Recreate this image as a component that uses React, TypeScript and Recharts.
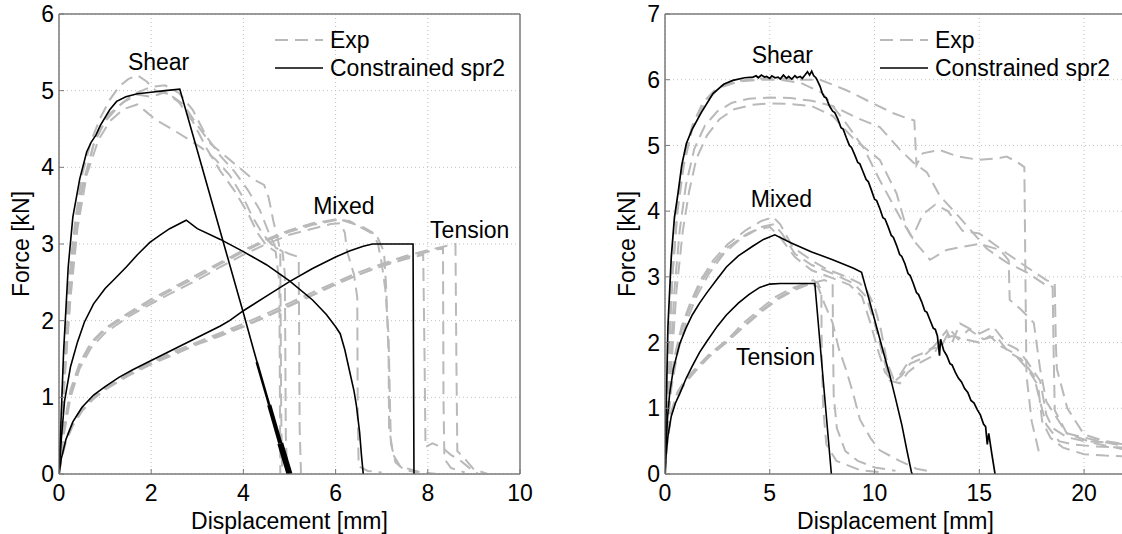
import React from "react";
import {
  LineChart,
  Line,
  XAxis,
  YAxis,
  CartesianGrid,
  ReferenceArea,
  ReferenceDot,
  Legend,
} from "recharts";

// ---------- left panel (x 0..10 mm, y 0..6 kN) ----------
const LEFT_X_TICKS = [0, 2, 4, 6, 8, 10];
const LEFT_Y_TICKS = [0, 1, 2, 3, 4, 5, 6];

const L_SIM_SHEAR = [
  [0, 0], [0.1, 1.6], [0.2, 2.7], [0.3, 3.35], [0.45, 3.85], [0.6, 4.2], [0.7, 4.33],
  [0.8, 4.42], [0.9, 4.55], [1.0, 4.65], [1.1, 4.75], [1.25, 4.86], [1.45, 4.92],
  [1.7, 4.96], [2.0, 4.98], [2.3, 5.0], [2.62, 5.02], [3.0, 4.22], [3.5, 3.16],
  [4.0, 2.1], [4.3, 1.45],
];
// the noisy tail of the shear simulation shows up as a thickening band
const L_SIM_SHEAR_TAIL_1 = [[4.29, 1.46], [4.56, 0.9]];
const L_SIM_SHEAR_TAIL_2 = [[4.56, 0.9], [4.8, 0.4]];
const L_SIM_SHEAR_TAIL_3 = [[4.8, 0.4], [5.0, 0]];
const L_SIM_MIXED = [
  [0, 0], [0.05, 0.45], [0.12, 0.95], [0.25, 1.4], [0.4, 1.72], [0.55, 1.98],
  [0.75, 2.22], [1.0, 2.42], [1.2, 2.54], [1.46, 2.7], [1.7, 2.86], [1.97, 3.02],
  [2.2, 3.12], [2.4, 3.2], [2.6, 3.26], [2.76, 3.31], [3.0, 3.2], [3.5, 3.06],
  [4.0, 2.9], [4.5, 2.73], [5.0, 2.52], [5.5, 2.27], [5.8, 2.08], [6.0, 1.92],
  [6.1, 1.83], [6.2, 1.62], [6.3, 1.35], [6.4, 1.08], [6.45, 0.9], [6.52, 0.55],
  [6.56, 0.25], [6.6, 0],
];
const L_SIM_TENSION = [
  [0, 0], [0.05, 0.2], [0.15, 0.45], [0.3, 0.68], [0.5, 0.87], [0.75, 1.03], [1.0, 1.14],
  [1.3, 1.26], [1.6, 1.36], [2.0, 1.48], [2.5, 1.63], [3.0, 1.78], [3.5, 1.93],
  [3.7, 2.0], [4.0, 2.13], [4.5, 2.32], [5.0, 2.51], [5.5, 2.68], [6.0, 2.83],
  [6.3, 2.91], [6.6, 2.97], [6.8, 3.0], [7.68, 3.0], [7.7, 0],
];

const L_EXP_SHEAR_1 = [
  [0, 0], [0.1, 1.3], [0.2, 2.4], [0.35, 3.3], [0.5, 3.9], [0.7, 4.35], [0.9, 4.65],
  [1.1, 4.88], [1.3, 5.05], [1.5, 5.15], [1.7, 5.2], [1.9, 5.12], [2.1, 5.0],
  [2.4, 4.95], [2.7, 4.82], [3.0, 4.55], [3.3, 4.3], [3.6, 4.15], [3.9, 4.0],
  [4.2, 3.85], [4.45, 3.77], [4.55, 3.6], [4.65, 3.3], [4.75, 3.05], [4.8, 2.9],
  [4.82, 0.8], [4.84, 0],
];
const L_EXP_SHEAR_2 = [
  [0, 0], [0.1, 1.1], [0.25, 2.3], [0.4, 3.2], [0.6, 3.9], [0.85, 4.35], [1.1, 4.6],
  [1.4, 4.76], [1.7, 4.82], [1.9, 4.72], [2.1, 4.62], [2.5, 4.48], [2.8, 4.37],
  [3.1, 4.25], [3.4, 4.1], [3.7, 3.9], [4.0, 3.6], [4.2, 3.35], [4.4, 3.15],
  [4.6, 3.0], [4.85, 2.9], [4.9, 2.6], [4.92, 0.5], [4.95, 0],
];
const L_EXP_SHEAR_3 = [
  [0, 0], [0.15, 1.5], [0.3, 2.8], [0.5, 3.7], [0.75, 4.3], [1.0, 4.6], [1.3, 4.8],
  [1.6, 4.95], [2.0, 5.05], [2.3, 5.07], [2.6, 4.97], [2.9, 4.75], [3.2, 4.4],
  [3.5, 4.15], [3.8, 3.95], [4.1, 3.7], [4.35, 3.45], [4.55, 3.15], [4.7, 2.95],
  [5.0, 2.87], [5.2, 2.83], [5.22, 0.6], [5.25, 0],
];
const L_EXP_SHEAR_4 = [
  [0, 0], [0.12, 1.6], [0.3, 3.0], [0.5, 3.75], [0.8, 4.4], [1.1, 4.7], [1.4, 4.85],
  [1.7, 4.95], [2.0, 4.92], [2.3, 4.98], [2.6, 4.85], [2.9, 4.6], [3.2, 4.25],
  [3.5, 3.95], [3.8, 3.7], [4.1, 3.4], [4.3, 3.15], [4.5, 2.98], [4.7, 2.9],
  [4.78, 2.5], [4.8, 0],
];
const L_EXP_MIXED_1 = [
  [0, 0], [0.1, 0.55], [0.25, 1.05], [0.45, 1.42], [0.7, 1.7], [1.0, 1.88], [1.5, 2.08],
  [2.0, 2.25], [2.5, 2.42], [3.0, 2.57], [3.5, 2.74], [4.0, 2.9], [4.5, 3.04],
  [5.0, 3.16], [5.5, 3.25], [5.9, 3.3], [6.1, 3.32], [6.3, 3.28], [6.6, 3.22],
  [6.8, 3.15], [6.92, 3.0], [7.0, 2.75], [7.08, 2.4], [7.15, 1.8], [7.18, 0.9],
  [7.2, 0.4], [7.3, 0.15], [7.5, 0.05], [7.8, 0.02],
];
const L_EXP_MIXED_2 = [
  [0, 0], [0.1, 0.5], [0.25, 1.0], [0.45, 1.38], [0.7, 1.65], [1.0, 1.84], [1.5, 2.05],
  [2.0, 2.22], [2.5, 2.38], [3.0, 2.53], [3.5, 2.7], [4.0, 2.86], [4.5, 3.0],
  [5.0, 3.12], [5.5, 3.2], [5.9, 3.26], [6.1, 3.27], [6.2, 3.15], [6.25, 2.9],
  [6.4, 2.6], [6.47, 2.3], [6.48, 0.8], [6.5, 0.1], [6.7, 0.04], [7.0, 0.02],
];
const L_EXP_MIXED_3 = [
  [0, 0], [0.1, 0.6], [0.25, 1.1], [0.45, 1.45], [0.7, 1.72], [1.0, 1.9], [1.5, 2.1],
  [2.0, 2.28], [2.5, 2.44], [3.0, 2.6], [3.5, 2.76], [4.0, 2.92], [4.5, 3.06],
  [5.0, 3.18], [5.5, 3.27], [6.0, 3.32], [6.3, 3.3], [6.6, 3.2], [6.9, 3.1],
  [7.05, 2.9], [7.1, 2.4], [7.15, 1.5], [7.16, 0.6], [7.25, 0.25], [7.4, 0.1],
  [7.8, 0.03], [8.2, 0],
];
const L_EXP_TENSION_1 = [
  [0, 0], [0.05, 0.2], [0.15, 0.45], [0.3, 0.66], [0.5, 0.85], [0.75, 1.0], [1.0, 1.11],
  [1.5, 1.3], [2.0, 1.45], [2.5, 1.58], [3.0, 1.7], [3.5, 1.82], [4.0, 1.93],
  [4.5, 2.06], [5.0, 2.2], [5.5, 2.34], [6.0, 2.48], [6.5, 2.6], [7.0, 2.71],
  [7.5, 2.8], [7.9, 2.86], [7.93, 1.5], [7.95, 0.35], [8.1, 0.4], [8.3, 0.35],
  [8.5, 0.25], [8.7, 0.18], [8.9, 0.08], [9.1, 0],
];
const L_EXP_TENSION_2 = [
  [0, 0], [0.05, 0.18], [0.15, 0.42], [0.3, 0.63], [0.5, 0.82], [0.75, 0.98], [1.0, 1.1],
  [1.5, 1.28], [2.0, 1.43], [2.5, 1.56], [3.0, 1.69], [3.5, 1.8], [4.0, 1.92],
  [4.5, 2.05], [5.0, 2.19], [5.5, 2.33], [6.0, 2.47], [6.5, 2.6], [7.0, 2.72],
  [7.5, 2.82], [8.0, 2.9], [8.33, 2.95], [8.34, 1.0], [8.36, 0.2], [8.5, 0.08],
  [8.8, 0.02],
];
const L_EXP_TENSION_3 = [
  [0, 0], [0.05, 0.2], [0.15, 0.46], [0.3, 0.67], [0.5, 0.86], [0.75, 1.01], [1.0, 1.12],
  [1.5, 1.3], [2.0, 1.46], [2.5, 1.6], [3.0, 1.72], [3.5, 1.84], [4.0, 1.96],
  [4.5, 2.09], [5.0, 2.23], [5.5, 2.37], [6.0, 2.5], [6.5, 2.63], [7.0, 2.74],
  [7.5, 2.84], [8.0, 2.92], [8.6, 3.0], [8.62, 1.5], [8.64, 0.3], [8.8, 0.2],
  [9.0, 0.06], [9.3, 0],
];

// ---------- right panel (x 0..22 mm, y 0..7 kN) ----------
const RIGHT_X_TICKS = [0, 5, 10, 15, 20];
const RIGHT_Y_TICKS = [0, 1, 2, 3, 4, 5, 6, 7];

const R_SIM_SHEAR = [
  [0, 0], [0.05, 0.9], [0.14, 2.24], [0.3, 3.3], [0.45, 3.9], [0.62, 4.27], [0.8, 4.7],
  [1.02, 5.03], [1.3, 5.25], [1.73, 5.5], [2.29, 5.79], [2.8, 5.93], [3.24, 5.99],
  [3.8, 6.03], [4.2, 6.04], [4.35, 6.06], [4.45, 6.03], [4.6, 6.07], [4.75, 6.04],
  [4.85, 6.05], [5.0, 6.02], [5.1, 6.06], [5.25, 6.03], [5.4, 6.04], [5.5, 6.01],
  [5.65, 6.07], [5.8, 6.02], [5.9, 6.05], [6.05, 6.01], [6.2, 6.06], [6.3, 6.03],
  [6.45, 6.05], [6.55, 6.02], [6.7, 6.08], [6.8, 6.12], [6.9, 6.07], [7.0, 6.13],
  [7.1, 6.06], [7.2, 6.03], [7.25, 6.0],
  [7.4, 5.9], [7.5, 5.8], [7.6, 5.74], [7.7, 5.72], [7.85, 5.6], [8.0, 5.52],
  [8.1, 5.5], [8.25, 5.4], [8.4, 5.27], [8.5, 5.25], [8.65, 5.12], [8.8, 5.0],
  [8.9, 4.97], [9.05, 4.86], [9.2, 4.74], [9.3, 4.72], [9.45, 4.6], [9.6, 4.48],
  [9.7, 4.45], [9.85, 4.32], [10.0, 4.18], [10.1, 4.16], [10.25, 4.04], [10.4, 3.9],
  [10.5, 3.88], [10.65, 3.76], [10.8, 3.63], [10.9, 3.6], [11.05, 3.48], [11.2, 3.34],
  [11.3, 3.31], [11.45, 3.2], [11.6, 3.05], [11.7, 3.02], [11.85, 2.9], [12.0, 2.76],
  [12.1, 2.73], [12.25, 2.62], [12.4, 2.48], [12.5, 2.46], [12.65, 2.34], [12.8, 2.22],
  [12.9, 2.2], [13.0, 2.1], [13.1, 1.8], [13.15, 2.05], [13.3, 1.88], [13.45, 1.8],
  [13.6, 1.68], [13.7, 1.66], [13.85, 1.55], [14.0, 1.46], [14.15, 1.4], [14.3, 1.3],
  [14.45, 1.24], [14.6, 1.12], [14.75, 1.08], [14.9, 0.98], [15.05, 0.9], [15.2, 0.76],
  [15.3, 0.72], [15.38, 0.45], [15.45, 0.62], [15.6, 0.3], [15.75, 0],
];
const R_SIM_MIXED = [
  [0, 0], [0.05, 0.45], [0.12, 0.85], [0.22, 1.22], [0.4, 1.6], [0.7, 1.98], [1.0, 2.22],
  [1.3, 2.42], [1.65, 2.6], [2.0, 2.76], [2.5, 2.97], [2.93, 3.15], [3.5, 3.32],
  [4.2, 3.47], [4.7, 3.57], [5.24, 3.64], [6.0, 3.52], [7.0, 3.38], [8.0, 3.26],
  [9.0, 3.13], [9.38, 3.07], [9.7, 2.7], [10.0, 2.35], [10.4, 1.88], [10.73, 1.5],
  [11.0, 1.15], [11.3, 0.75], [11.55, 0.35], [11.76, 0.03], [11.8, 0],
];
const R_SIM_TENSION = [
  [0, 0], [0.05, 0.3], [0.15, 0.6], [0.3, 0.88], [0.5, 1.08], [0.7, 1.22], [1.0, 1.45],
  [1.3, 1.64], [1.65, 1.85], [2.0, 2.02], [2.5, 2.25], [2.93, 2.42], [3.5, 2.6],
  [4.0, 2.73], [4.52, 2.84], [5.0, 2.89], [5.5, 2.9], [7.15, 2.9], [7.94, 0],
];

const R_EXP_SHEAR_1 = [
  [0, 0], [0.15, 1.5], [0.35, 3.0], [0.6, 4.1], [0.9, 4.8], [1.3, 5.3], [1.8, 5.65],
  [2.5, 5.88], [3.5, 5.98], [4.5, 6.02], [5.5, 6.02], [6.5, 6.0], [7.4, 6.0],
  [8.66, 5.84], [9.8, 5.66], [10.9, 5.49], [11.5, 5.42], [11.9, 5.38], [12.0, 4.7],
  [12.3, 4.88], [13.1, 4.93], [14.0, 4.83], [15.0, 4.78], [15.8, 4.8], [16.3, 4.83],
  [16.8, 4.75], [17.15, 4.67], [17.2, 3.0], [17.25, 1.5], [17.5, 0.8], [17.9, 0.26],
];
const R_EXP_SHEAR_2 = [
  [0, 0], [0.2, 1.4], [0.45, 2.8], [0.7, 3.7], [1.0, 4.4], [1.4, 4.95], [1.9, 5.3],
  [2.5, 5.52], [3.2, 5.65], [4.0, 5.71], [5.0, 5.73], [6.0, 5.72], [7.0, 5.68],
  [8.0, 5.6], [9.3, 5.4], [10.25, 5.28], [11.2, 4.94], [11.85, 4.74], [12.5, 4.59],
  [13.1, 4.24], [14.1, 3.89], [15.35, 3.43], [16.3, 3.22], [17.26, 3.07], [18.2, 2.87],
  [18.5, 2.85], [18.55, 1.8], [18.6, 0.97], [19.17, 0.62], [20.45, 0.47], [22, 0.37],
];
const R_EXP_SHEAR_3 = [
  [0, 0], [0.25, 1.4], [0.55, 2.8], [0.85, 3.7], [1.15, 4.3], [1.5, 4.8], [2.0, 5.15],
  [2.6, 5.4], [3.3, 5.55], [4.2, 5.62], [5.0, 5.64], [6.0, 5.63], [7.0, 5.6],
  [8.0, 5.45], [9.0, 5.1], [10.25, 4.78], [11.05, 4.27], [11.5, 3.77], [11.8, 3.6],
  [12.3, 3.95], [12.9, 4.1], [13.5, 4.0], [14.2, 3.7], [15.0, 3.66], [16.3, 3.36],
  [17.26, 3.15], [18.2, 2.95], [18.6, 2.9], [18.65, 2.0], [18.7, 1.6], [19.2, 1.0],
  [20.0, 0.6], [21.0, 0.5], [22, 0.45],
];
const R_EXP_SHEAR_4 = [
  [0, 0], [0.15, 1.6], [0.35, 3.0], [0.6, 4.0], [0.9, 4.7], [1.3, 5.25], [1.9, 5.65],
  [2.6, 5.88], [3.5, 5.97], [4.5, 6.0], [5.5, 6.0], [6.5, 5.95], [7.5, 5.8],
  [8.66, 5.33], [9.5, 4.95], [10.25, 4.47], [11.21, 3.91], [11.85, 3.56], [12.65, 3.26],
  [13.44, 3.41], [14.24, 3.46], [15.0, 3.5], [16.0, 3.41], [16.4, 3.25], [16.45, 2.65],
  [17.0, 2.5], [17.6, 2.3], [17.9, 1.6], [18.2, 1.1], [19.17, 0.62], [20.45, 0.52],
  [22, 0.42],
];
const R_EXP_MIXED_1 = [
  [0, 0], [0.1, 0.7], [0.25, 1.3], [0.5, 1.85], [0.8, 2.25], [1.2, 2.6], [1.7, 2.95],
  [2.3, 3.25], [3.0, 3.5], [3.9, 3.72], [4.6, 3.85], [5.16, 3.91], [5.5, 3.8],
  [6.1, 3.45], [7.0, 3.25], [7.7, 3.12], [8.66, 3.0], [9.3, 2.9], [9.62, 2.8],
  [10.0, 2.55], [10.3, 2.2], [10.6, 1.7], [10.9, 1.45], [11.2, 1.5], [11.5, 1.65],
  [11.85, 1.78], [12.4, 1.85], [12.8, 1.93], [13.44, 2.18], [13.7, 2.0], [14.08, 2.29],
  [14.6, 2.2], [15.03, 2.14], [15.67, 2.24], [16.3, 1.98], [16.8, 1.9], [17.26, 1.72],
  [17.9, 1.42], [18.2, 0.9], [18.5, 0.7], [19.17, 0.56], [20.0, 0.5], [21.0, 0.48],
  [22, 0.45],
];
const R_EXP_MIXED_2 = [
  [0, 0], [0.1, 0.65], [0.25, 1.25], [0.5, 1.8], [0.8, 2.2], [1.2, 2.55], [1.7, 2.9],
  [2.3, 3.2], [3.0, 3.45], [3.9, 3.65], [4.6, 3.76], [5.2, 3.8], [5.6, 3.65],
  [6.2, 3.35], [7.0, 3.18], [8.0, 3.05], [9.0, 2.9], [9.6, 2.7], [10.0, 2.3],
  [10.4, 1.8], [10.73, 1.42], [11.21, 1.38], [11.6, 1.55], [12.2, 1.7], [12.8, 1.8],
  [13.2, 2.05], [13.7, 2.1], [14.3, 2.05], [15.0, 2.0], [15.5, 2.1], [16.0, 1.95],
  [16.6, 1.85], [17.3, 1.6], [17.8, 1.35], [18.0, 0.8], [18.4, 0.55], [19.0, 0.4],
  [20.0, 0.3], [21.0, 0.28], [22, 0.27],
];
const R_EXP_MIXED_3 = [
  [0, 0], [0.1, 0.6], [0.3, 1.3], [0.6, 1.85], [1.0, 2.3], [1.5, 2.7], [2.1, 3.05],
  [2.8, 3.35], [3.6, 3.58], [4.4, 3.72], [5.0, 3.76], [5.5, 3.6], [6.2, 3.3],
  [7.0, 3.1], [8.0, 2.98], [8.8, 2.88], [9.4, 2.7], [9.8, 2.3], [10.2, 1.85],
  [10.5, 1.55], [10.9, 1.4], [11.3, 1.5], [11.7, 1.68], [12.2, 1.75], [12.7, 1.9],
  [13.2, 1.95], [13.6, 2.2], [14.0, 2.05], [14.5, 2.2], [15.2, 2.05], [15.8, 2.1],
  [16.4, 1.85], [17.0, 1.75], [17.6, 1.5], [17.9, 1.1], [18.2, 0.75], [18.8, 0.5],
  [19.5, 0.45], [20.5, 0.42], [22, 0.4],
];
const R_EXP_TENSION_1 = [
  [0, 0], [0.1, 0.5], [0.3, 0.95], [0.6, 1.25], [1.0, 1.45], [1.5, 1.62], [2.13, 1.83],
  [3.0, 2.05], [3.72, 2.29], [4.5, 2.5], [5.3, 2.7], [6.0, 2.82], [6.73, 2.9],
  [7.07, 2.95], [7.3, 2.9], [7.46, 2.8], [7.48, 1.8], [7.55, 1.0], [7.7, 0.45],
  [8.18, 0.2], [9.3, 0.06], [10.5, 0.02],
];
const R_EXP_TENSION_2 = [
  [0, 0], [0.1, 0.45], [0.3, 0.9], [0.6, 1.2], [1.0, 1.4], [1.5, 1.58], [2.1, 1.78],
  [3.0, 2.02], [3.8, 2.25], [4.6, 2.47], [5.4, 2.66], [6.2, 2.8], [6.8, 2.88],
  [7.2, 2.92], [7.6, 2.95], [8.0, 2.9], [8.02, 2.0], [8.05, 1.2], [8.2, 0.7],
  [8.6, 0.35], [9.2, 0.2], [10.0, 0.1], [11.0, 0.05],
];
const R_EXP_TENSION_3 = [
  [0, 0], [0.1, 0.48], [0.3, 0.93], [0.6, 1.23], [1.0, 1.43], [1.5, 1.6], [2.1, 1.8],
  [3.0, 2.04], [3.8, 2.27], [4.6, 2.49], [5.4, 2.68], [6.2, 2.82], [6.9, 2.9],
  [7.3, 2.85], [7.6, 2.6], [8.0, 2.3], [8.3, 1.9], [8.66, 1.57], [9.0, 1.2],
  [9.3, 0.83], [9.8, 0.55], [10.25, 0.36], [11.2, 0.2], [12.0, 0.08], [12.5, 0.05],
];

// curve labels: [text, x, y] in data units
const LEFT_NOTES: [string, number, number][] = [
  ["Shear", 2.16, 5.38],
  ["Mixed", 6.18, 3.5],
  ["Tension", 8.91, 3.19],
];
const RIGHT_NOTES: [string, number, number][] = [
  ["Shear", 5.6, 6.38],
  ["Mixed", 5.56, 4.19],
  ["Tension", 5.28, 1.78],
];

const LEFT_EXP = [
  L_EXP_SHEAR_1, L_EXP_SHEAR_2, L_EXP_SHEAR_3, L_EXP_SHEAR_4,
  L_EXP_MIXED_1, L_EXP_MIXED_2, L_EXP_MIXED_3,
  L_EXP_TENSION_1, L_EXP_TENSION_2, L_EXP_TENSION_3,
];
const LEFT_SIM: [number[][], number][] = [
  [L_SIM_SHEAR, 1.6],
  [L_SIM_SHEAR_TAIL_1, 2.6],
  [L_SIM_SHEAR_TAIL_2, 4.2],
  [L_SIM_SHEAR_TAIL_3, 6],
  [L_SIM_MIXED, 1.6],
  [L_SIM_TENSION, 1.6],
];
const RIGHT_EXP = [
  R_EXP_SHEAR_1, R_EXP_SHEAR_2, R_EXP_SHEAR_3, R_EXP_SHEAR_4,
  R_EXP_MIXED_1, R_EXP_MIXED_2, R_EXP_MIXED_3,
  R_EXP_TENSION_1, R_EXP_TENSION_2, R_EXP_TENSION_3,
];
const RIGHT_SIM: [number[][], number][] = [
  [R_SIM_SHEAR, 1.7],
  [R_SIM_MIXED, 1.6],
  [R_SIM_TENSION, 1.6],
];

const EXP_COLOR = "#b9b9b9";
const SIM_COLOR = "#000000";
const AXIS_COLOR = "#7a7a7a";
const FONT = 23;

const toPoints = (arr: number[][]) => arr.map(([x, y]) => ({ x, y }));

function LegendBox() {
  return (
    <svg width={240} height={56} style={{ display: "block", overflow: "visible" }}>
      <line x1={0} x2={48} y1={13} y2={13} stroke={EXP_COLOR} strokeWidth={2} strokeDasharray="13 7" />
      <text x={55} y={13} dominantBaseline="central" fontSize={FONT} fill="#000">Exp</text>
      <line x1={0} x2={48} y1={41} y2={41} stroke={SIM_COLOR} strokeWidth={1.6} />
      <text x={55} y={41} dominantBaseline="central" fontSize={FONT} fill="#000">Constrained spr2</text>
    </svg>
  );
}

function ForceLabel(props: any) {
  const vb = props.viewBox || { x: 0, y: 0, width: 0, height: 0 };
  const cx = vb.x + vb.width - 38;
  const cy = vb.y + vb.height / 2;
  return (
    <text
      x={cx}
      y={cy}
      transform={`rotate(-90 ${cx} ${cy})`}
      textAnchor="middle"
      dominantBaseline="central"
      fontSize={FONT}
      fill="#000"
    >
      Force [kN]
    </text>
  );
}

type PanelProps = {
  left: number;
  width: number;
  margin: { top: number; right: number; bottom: number; left: number };
  xMax: number;
  yMax: number;
  xTicks: number[];
  yTicks: number[];
  exp: number[][][];
  sim: [number[][], number][];
  notes: [string, number, number][];
  legendLeft: number;
};

function Panel(p: PanelProps) {
  return (
    <div style={{ position: "absolute", left: p.left, top: 0 }}>
      <LineChart width={p.width} height={534} margin={p.margin}>
        <CartesianGrid stroke="#c2c2c2" strokeDasharray="1 3" />
        <XAxis
          dataKey="x"
          type="number"
          domain={[0, p.xMax]}
          ticks={p.xTicks}
          allowDataOverflow
          height={60}
          stroke={AXIS_COLOR}
          tickSize={-5}
          tickMargin={16}
          tick={{ fill: "#000", fontSize: FONT }}
          label={{ value: "Displacement [mm]", position: "insideBottom", offset: 5, fill: "#000", fontSize: FONT }}
        />
        <XAxis
          xAxisId="top"
          orientation="top"
          dataKey="x"
          type="number"
          domain={[0, p.xMax]}
          ticks={p.xTicks}
          allowDataOverflow
          height={1}
          stroke={AXIS_COLOR}
          tickSize={-5}
          tick={false}
        />
        <YAxis
          type="number"
          domain={[0, p.yMax]}
          ticks={p.yTicks}
          allowDataOverflow
          width={30}
          stroke={AXIS_COLOR}
          tickSize={-5}
          tickMargin={10}
          tick={{ fill: "#000", fontSize: FONT }}
          label={ForceLabel}
        />
        <YAxis
          yAxisId="right"
          orientation="right"
          type="number"
          domain={[0, p.yMax]}
          ticks={p.yTicks}
          allowDataOverflow
          width={1}
          stroke={AXIS_COLOR}
          tickSize={-5}
          tick={false}
        />
        <ReferenceArea x1={0} x2={p.xMax} y1={0} y2={p.yMax} fill="none" stroke={AXIS_COLOR} strokeWidth={1} />
        {p.exp.map((d, i) => (
          <Line
            key={`exp-${i}`}
            data={toPoints(d)}
            dataKey="y"
            type="linear"
            stroke={EXP_COLOR}
            strokeWidth={2}
            strokeDasharray="13 7"
            dot={false}
            activeDot={false}
            isAnimationActive={false}
          />
        ))}
        {p.sim.map(([d, w], i) => (
          <Line
            key={`sim-${i}`}
            data={toPoints(d)}
            dataKey="y"
            type="linear"
            stroke={SIM_COLOR}
            strokeWidth={w}
            dot={false}
            activeDot={false}
            isAnimationActive={false}
          />
        ))}
        {p.notes.map(([text, x, y]) => (
          <ReferenceDot
            key={text}
            x={x}
            y={y}
            r={0}
            fill="none"
            stroke="none"
            label={{ value: text, position: "center", fill: "#000", fontSize: FONT }}
          />
        ))}
        <Legend
          layout="horizontal"
          verticalAlign="middle"
          align="center"
          wrapperStyle={{ left: p.legendLeft, top: 27, width: 240, height: 56 }}
          content={() => <LegendBox />}
        />
      </LineChart>
    </div>
  );
}

export default function App() {
  return (
    <div
      style={{
        position: "absolute",
        left: 0,
        top: 0,
        width: 1122,
        height: 534,
        overflow: "hidden",
        background: "#fff",
        fontFamily: "'Liberation Sans', Arial, Helvetica, sans-serif",
      }}
    >
      <Panel
        left={0}
        width={560}
        margin={{ top: 13, right: 39, bottom: 0, left: 29 }}
        xMax={10}
        yMax={6}
        xTicks={LEFT_X_TICKS}
        yTicks={LEFT_Y_TICKS}
        exp={LEFT_EXP}
        sim={LEFT_SIM}
        notes={LEFT_NOTES}
        legendLeft={275}
      />
      <Panel
        left={560}
        width={570}
        margin={{ top: 13, right: 3, bottom: 0, left: 75 }}
        xMax={22}
        yMax={7}
        xTicks={RIGHT_X_TICKS}
        yTicks={RIGHT_Y_TICKS}
        exp={RIGHT_EXP}
        sim={RIGHT_SIM}
        notes={RIGHT_NOTES}
        legendLeft={320}
      />
    </div>
  );
}
